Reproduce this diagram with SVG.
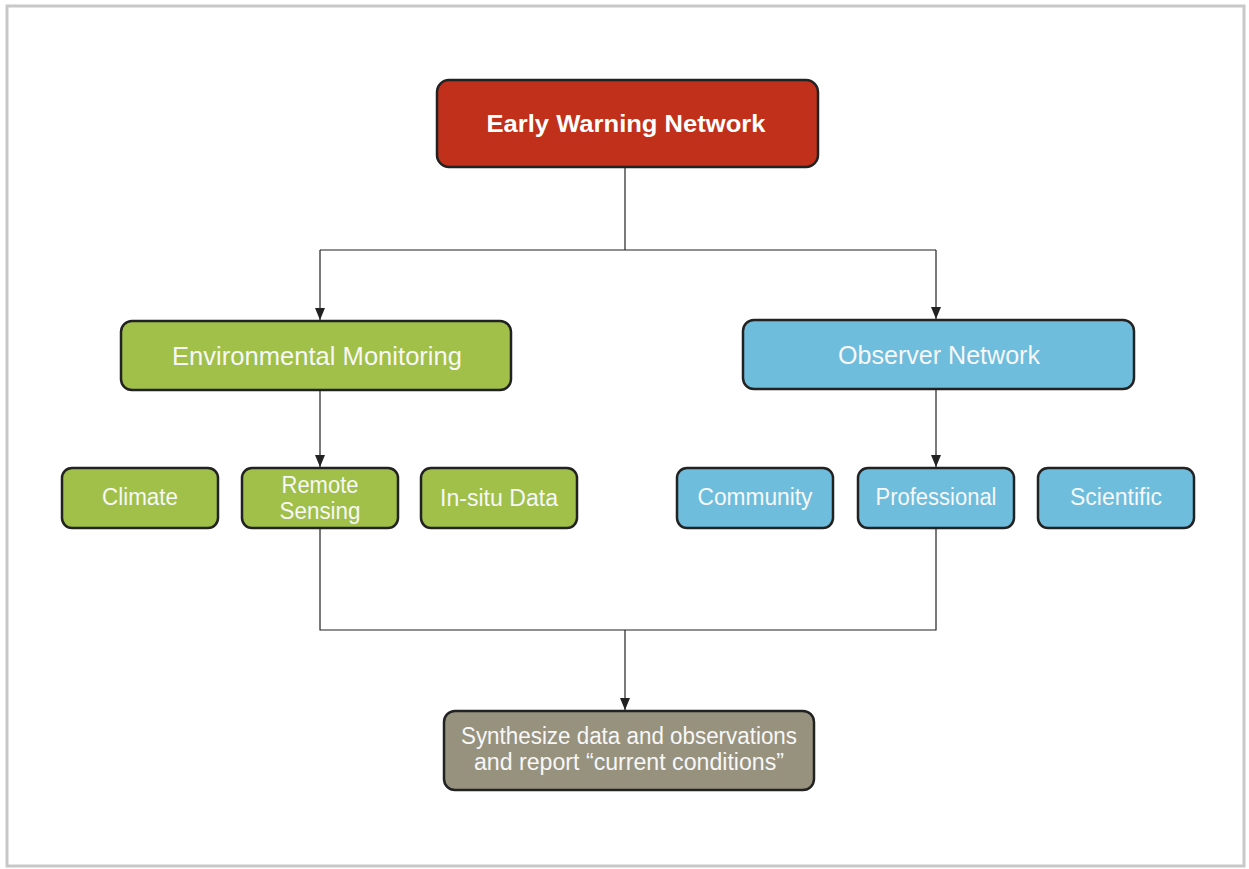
<svg xmlns="http://www.w3.org/2000/svg" width="1249" height="869" viewBox="0 0 1249 869">
<defs>
<style>
.box{stroke:#222;stroke-width:2.5}
.red{fill:#C1301A}
.grn{fill:#A0C04A}
.blu{fill:#6EBDDD}
.gry{fill:#97927E}
.t{font-family:"Liberation Sans",Arial,sans-serif;fill:#F7F7F7;text-anchor:middle}
.big{font-size:26px}
.sm{font-size:23px}
.b{font-weight:bold;font-size:24px;fill:#fff}
.ln{fill:none;stroke:#222;stroke-width:1.2}
</style>
<marker id="ar" viewBox="0 0 12 10" refX="12" refY="5" markerWidth="12" markerHeight="10" markerUnits="userSpaceOnUse" orient="auto">
<path d="M0,0 L12,5 L0,10 z" fill="#222"/>
</marker>
</defs>
<rect width="1249" height="869" fill="#fff"/>
<rect x="7" y="6" width="1237" height="860" fill="none" stroke="#C8C8C8" stroke-width="3"/>
<g id="connectors">
<path class="ln" d="M625,167 V250"/>
<path class="ln" d="M320,250 H936"/>
<path class="ln" d="M320,250 V320" marker-end="url(#ar)"/>
<path class="ln" d="M936,250 V319" marker-end="url(#ar)"/>
<path class="ln" d="M320,390 V467" marker-end="url(#ar)"/>
<path class="ln" d="M936,389 V467" marker-end="url(#ar)"/>
<path class="ln" d="M320,528 V630 H936 V528"/>
<path class="ln" d="M625,630 V710" marker-end="url(#ar)"/>
</g>
<g id="early-warning">
<rect class="box red" x="437" y="80" width="381" height="87" rx="12"/>
<text class="t b" x="626" y="132" textLength="279" lengthAdjust="spacingAndGlyphs">Early Warning Network</text>
</g>
<g id="env-monitoring">
<rect class="box grn" x="121" y="321" width="390" height="69" rx="11"/>
<text class="t big" x="317" y="365" textLength="290" lengthAdjust="spacingAndGlyphs">Environmental Monitoring</text>
</g>
<g id="observer-network">
<rect class="box blu" x="743" y="320" width="391" height="69" rx="11"/>
<text class="t big" x="939" y="364" textLength="202" lengthAdjust="spacingAndGlyphs">Observer Network</text>
</g>
<g id="climate">
<rect class="box grn" x="62" y="468" width="156" height="60" rx="10"/>
<text class="t sm" x="140" y="505" textLength="76" lengthAdjust="spacingAndGlyphs">Climate</text>
</g>
<g id="remote-sensing">
<rect class="box grn" x="242" y="468" width="156" height="60" rx="10"/>
<text class="t sm" x="320" y="493" textLength="77" lengthAdjust="spacingAndGlyphs">Remote</text>
<text class="t sm" x="320" y="519" textLength="81" lengthAdjust="spacingAndGlyphs">Sensing</text>
</g>
<g id="in-situ">
<rect class="box grn" x="421" y="468" width="156" height="60" rx="10"/>
<text class="t sm" x="499" y="506" textLength="118" lengthAdjust="spacingAndGlyphs">In-situ Data</text>
</g>
<g id="community">
<rect class="box blu" x="677" y="468" width="156" height="60" rx="10"/>
<text class="t sm" x="755" y="505" textLength="115" lengthAdjust="spacingAndGlyphs">Community</text>
</g>
<g id="professional">
<rect class="box blu" x="858" y="468" width="156" height="60" rx="10"/>
<text class="t sm" x="936" y="505" textLength="121" lengthAdjust="spacingAndGlyphs">Professional</text>
</g>
<g id="scientific">
<rect class="box blu" x="1038" y="468" width="156" height="60" rx="10"/>
<text class="t sm" x="1116" y="505" textLength="92" lengthAdjust="spacingAndGlyphs">Scientific</text>
</g>
<g id="synthesize">
<rect class="box gry" x="444" y="711" width="370" height="79" rx="11"/>
<text class="t sm" x="629" y="744" textLength="336" lengthAdjust="spacingAndGlyphs">Synthesize data and observations</text>
<text class="t sm" x="629" y="770" textLength="310" lengthAdjust="spacingAndGlyphs">and report “current conditions”</text>
</g>
</svg>
